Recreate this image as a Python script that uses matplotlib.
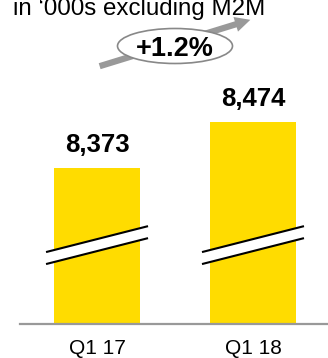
import matplotlib.pyplot as plt
from matplotlib.patches import Ellipse, FancyArrowPatch, Polygon
from matplotlib.transforms import blended_transform_factory

plt.rcParams['font.family'] = ['Liberation Sans', 'DejaVu Sans']

categories = ['Q1 17', 'Q1 18']
values = [8373, 8474]
value_labels = ['8,373', '8,474']
growth_label = '+1.2%'
subtitle = 'in \u2018000s excluding M2M'

yellow = '#FFDC00'
grey = '#999999'

fig = plt.figure(figsize=(3.28, 3.58), dpi=100)
ax = fig.add_axes([20 / 328, 34 / 358, 308 / 328, 324 / 358])

x = list(range(len(categories)))
bars = ax.bar(x, values, width=0.551, color=yellow, zorder=2)

# broken axis: only the top of each bar is shown
ax.set_ylim(8030, 8742)
ax.set_xlim(-0.494, 1.481)

for s in ['top', 'right', 'left']:
    ax.spines[s].set_visible(False)
ax.spines['bottom'].set_color(grey)
ax.spines['bottom'].set_linewidth(1.6)
ax.set_yticks([])
ax.set_xticks(x)
ax.set_xticklabels(categories, fontsize=15)
ax.tick_params(axis='x', length=0, pad=11)

for bar, lab in zip(bars, value_labels):
    ax.annotate(lab, xy=(bar.get_x() + bar.get_width() / 2, bar.get_height()),
                xytext=(0, 8), textcoords='offset points',
                ha='center', va='bottom', fontsize=18.5, fontweight='bold')

# break marks across each bar
trans = blended_transform_factory(ax.transData, ax.transAxes)
half = 0.327
yc, rise, gap = 0.262, 0.040, 0.037
for xi in x:
    band = Polygon([(xi - half, yc - rise), (xi + half, yc + rise),
                    (xi + half, yc + rise - gap), (xi - half, yc - rise - gap)],
                   closed=True, facecolor='white', edgecolor='none',
                   transform=trans, zorder=3, clip_on=False)
    ax.add_patch(band)
    for off in (0, gap):
        ax.plot([xi - half, xi + half], [yc - rise - off, yc + rise - off],
                color='black', lw=1.5, transform=trans, zorder=4,
                clip_on=False, solid_capstyle='butt')

fig.text(13 / 328, 1 - 15 / 358, subtitle, fontsize=17.4,
         ha='left', va='baseline')

arrow = FancyArrowPatch((97 / 328, 291 / 358), (253 / 328, 339 / 358),
                        transform=fig.transFigure,
                        arrowstyle='simple,head_length=1.1,head_width=1.1,tail_width=0.45',
                        mutation_scale=10, color=grey, lw=0)
fig.patches.append(arrow)
ell = Ellipse((175 / 328, 1 - 46 / 358), 115 / 328, 35 / 358,
              transform=fig.transFigure, facecolor='white',
              edgecolor='#888888', lw=1.2)
fig.patches.append(ell)
fig.text(175 / 328, 1 - 46 / 358, growth_label, fontsize=19.5,
         fontweight='bold', ha='center', va='center_baseline')

fig.savefig('out.png', dpi=100)
